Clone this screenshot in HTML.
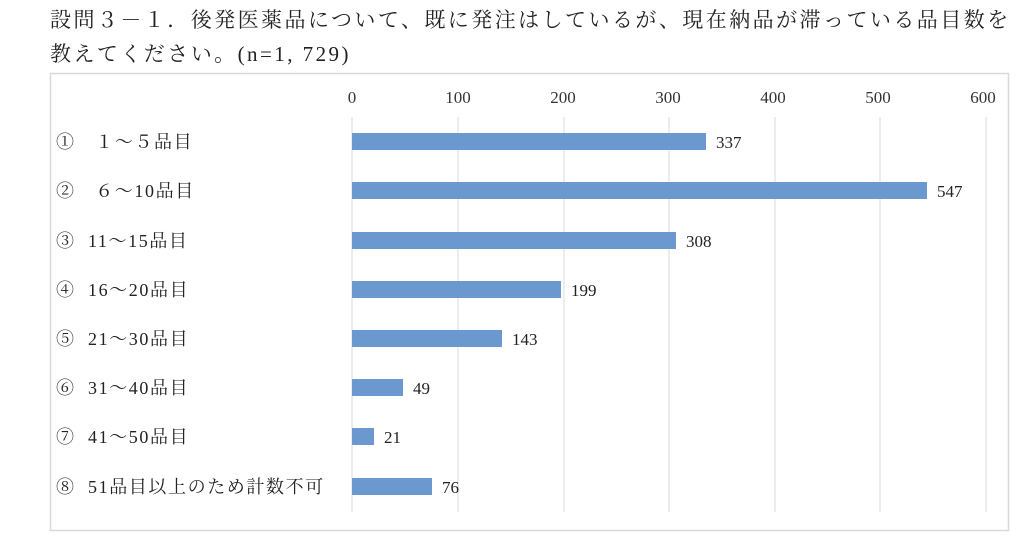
<!DOCTYPE html>
<html><head><meta charset="utf-8"><style>
body{margin:0;width:1024px;height:551px;background:#fff;overflow:hidden;font-family:"Liberation Serif","Noto Serif CJK JP","Noto Serif CJK SC",serif;color:#222}
.t{position:absolute;left:50px;font-size:21px;white-space:nowrap;letter-spacing:2.45px}
</style></head><body>
<div class="t" style="top:4px">設問３－１．後発医薬品について、既に発注はしているが、現在納品が滞っている品目数を</div>
<div class="t" style="top:38px">教えてください。(n=1, 729)</div>
<svg width="1024" height="551" style="position:absolute;left:0;top:0" font-family="Liberation Serif, Noto Serif CJK JP, Noto Serif CJK SC, serif">
<rect x="50.5" y="73.5" width="958" height="457" fill="none" stroke="#d9d9d9" stroke-width="1.5"/>
<g stroke="#d9d9d9" stroke-width="1">
<line x1="352" y1="117" x2="352" y2="512"/>
<line x1="458" y1="117" x2="458" y2="512"/>
<line x1="564" y1="117" x2="564" y2="512"/>
<line x1="669" y1="117" x2="669" y2="512"/>
<line x1="775" y1="117" x2="775" y2="512"/>
<line x1="880" y1="117" x2="880" y2="512"/>
<line x1="986" y1="117" x2="986" y2="512"/>
</g>
<g font-size="17" fill="#333" text-anchor="middle">
<text x="352" y="103">0</text><text x="458" y="103">100</text><text x="563" y="103">200</text><text x="668" y="103">300</text><text x="773" y="103">400</text><text x="878" y="103">500</text><text x="983" y="103">600</text>
</g>
<g fill="#6a98cf">
<rect x="352" y="133" width="354" height="17"/>
<rect x="352" y="182" width="575" height="17"/>
<rect x="352" y="232" width="324" height="17"/>
<rect x="352" y="281" width="209" height="17"/>
<rect x="352" y="330" width="150" height="17"/>
<rect x="352" y="379" width="51" height="17"/>
<rect x="352" y="428" width="22" height="17"/>
<rect x="352" y="478" width="80" height="17"/>
</g>
<g font-size="17" fill="#222">
<text x="716" y="148">337</text><text x="937" y="197">547</text><text x="686" y="247">308</text><text x="571" y="296">199</text><text x="512" y="345">143</text><text x="413" y="394">49</text><text x="384" y="443">21</text><text x="442" y="493">76</text>
</g>
<g font-size="18" fill="#222" letter-spacing="1.6">
<text x="56" y="148">①　１～５品目</text>
<text x="56" y="197">②　６～10品目</text>
<text x="56" y="247">③ <tspan x="88">11～15品目</tspan></text>
<text x="56" y="296">④ <tspan x="88">16～20品目</tspan></text>
<text x="56" y="345">⑤ <tspan x="88">21～30品目</tspan></text>
<text x="56" y="394">⑥ <tspan x="88">31～40品目</tspan></text>
<text x="56" y="443">⑦ <tspan x="88">41～50品目</tspan></text>
<text x="56" y="493">⑧ <tspan x="88">51品目以上のため計数不可</tspan></text>
</g>
</svg>
</body></html>
